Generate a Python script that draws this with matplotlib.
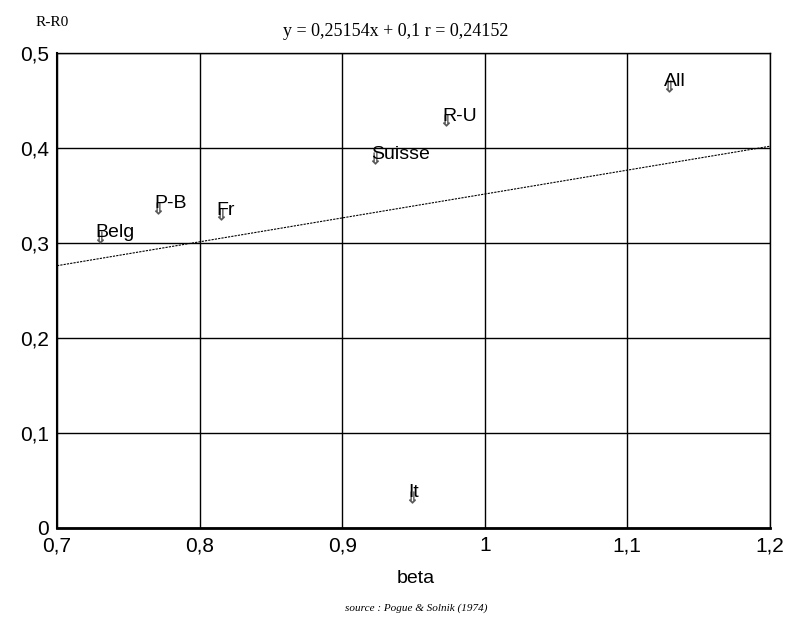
import matplotlib.pyplot as plt
from matplotlib.ticker import FuncFormatter

# donnees
pays = ["Belg", "P-B", "Fr", "Suisse", "R-U", "All", "It"]
beta = [0.730, 0.771, 0.815, 0.923, 0.973, 1.129, 0.949]
r_r0 = [0.306, 0.337, 0.330, 0.389, 0.429, 0.465, 0.033]
pente = 0.25154
const = 0.1
x_ticks = [0.7, 0.8, 0.9, 1.0, 1.1, 1.2]
y_ticks = [0, 0.1, 0.2, 0.3, 0.4, 0.5]


def virgule(v, pos):
    s = f"{v:.1f}".rstrip("0").rstrip(".")
    return s.replace(".", ",")


fig = plt.figure(figsize=(7.92, 6.24), dpi=100)
ax = fig.add_axes([0.072, 0.154, 0.9, 0.761])

ax.set_xlim(0.7, 1.2)
ax.set_ylim(0, 0.5)
ax.set_xticks(x_ticks)
ax.set_yticks(y_ticks)
ax.xaxis.set_major_formatter(FuncFormatter(virgule))
ax.yaxis.set_major_formatter(FuncFormatter(virgule))
ax.tick_params(length=0, labelsize=15, pad=6)
for lab in ax.get_xticklabels() + ax.get_yticklabels():
    lab.set_family("Liberation Sans")
ax.grid(True, color="black", linewidth=1)
ax.set_axisbelow(True)
for sp in ax.spines.values():
    sp.set_color("black")
    sp.set_linewidth(1)
ax.spines["bottom"].set_linewidth(2)
ax.spines["left"].set_linewidth(1.5)

# droite de regression
xs = [0.7, 1.2]
ax.plot(xs, [pente * x + const for x in xs], color="black", linestyle=(0, (2, 1)),
        linewidth=0.8)

ax.scatter(beta, r_r0, marker="$\\Downarrow$", s=70, color="#555555", zorder=3,
           linewidths=0.3)
for nom, x, y in zip(pays, beta, r_r0):
    ax.annotate(nom, (x, y), xytext=(-3, -3), textcoords="offset points",
                fontsize=14, family="Liberation Sans", va="bottom", ha="left")

fig.text(0.045, 0.958, "R-R0", family="Liberation Serif", fontsize=11)
fig.text(0.5, 0.942, "y = 0,25154x + 0,1 r = 0,24152", family="Liberation Serif",
         fontsize=13, ha="center")
fig.text(0.525, 0.065, "beta", family="Liberation Sans", fontsize=14, ha="center")
fig.text(0.525, 0.022, "source : Pogue & Solnik (1974)", family="Liberation Serif",
         style="italic", fontsize=8, ha="center")

fig.savefig("out.png", dpi=100)
